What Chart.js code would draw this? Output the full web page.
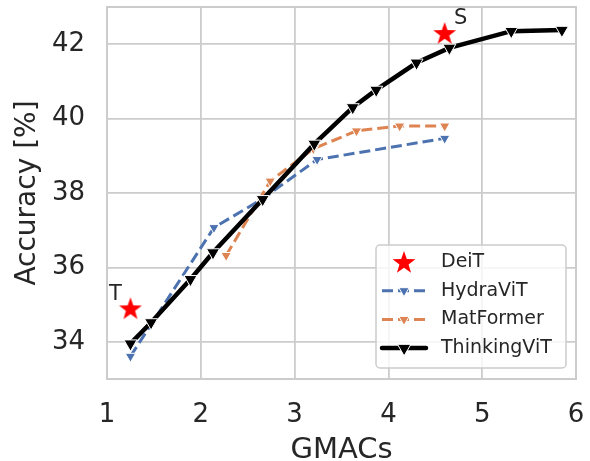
<!DOCTYPE html>
<html>
<head>
<meta charset="utf-8">
<script src="https://cdn.jsdelivr.net/npm/chart.js@4"></script>
<style>
  html, body { margin: 0; padding: 0; background: #fff; }
  #wrap { width: 590px; height: 461px; }
</style>
</head>
<body>
<div id="wrap"><canvas id="accChart" width="590" height="461"></canvas></div>
<script>
// values
const xTicks = [1, 2, 3, 4, 5, 6];
const yTicks = [34, 36, 38, 40, 42];

const deitX = [1.25, 4.60];
const deitY = [34.90, 42.30];
const deitTags = ['T', 'S'];

const hydraX = [1.25, 2.14, 2.65, 3.24, 4.60];
const hydraY = [33.61, 37.07, 37.83, 38.90, 39.47];

const matX = [2.27, 2.74, 3.20, 3.66, 4.12, 4.60];
const matY = [36.32, 38.32, 39.19, 39.67, 39.80, 39.80];

const thinkX = [1.25, 1.47, 1.89, 2.13, 2.66, 3.21, 3.62, 3.87, 4.30, 4.65, 5.31, 5.85];
const thinkY = [33.95, 34.52, 35.68, 36.40, 37.83, 39.32, 40.30, 40.77, 41.50, 41.90, 42.35, 42.38];

const textColor = '#262626';
const gridColor = '#cccccc';
const fontFamily = "'DejaVu Sans', sans-serif";

function pairs(xs, ys) {
    return xs.map((x, i) => ({ x: x, y: ys[i] }));
}

// filled five point star, like matplotlib's '*' marker
function makeStar(size) {
    const c = document.createElement('canvas');
    c.width = size; c.height = size;
    const g = c.getContext('2d');
    const cx = size / 2, cy = size / 2 + 1, R = size / 2, r = R * 0.4;
    g.beginPath();
    for (let i = 0; i < 10; i++) {
        const rad = (i % 2 === 0) ? R : r;
        const ang = -Math.PI / 2 + i * Math.PI / 5;
        g.lineTo(cx + rad * Math.cos(ang), cy + rad * Math.sin(ang));
    }
    g.closePath();
    g.fillStyle = '#ff0000';
    g.fill();
    return c;
}
const starImg = makeStar(24);

const datasets = [
    {
        label: 'DeiT', data: pairs(deitX, deitY), showLine: false,
        pointStyle: starImg, pointRadius: 12, order: 0
    },
    {
        label: 'HydraViT', data: pairs(hydraX, hydraY), showLine: true,
        borderColor: '#4c72b0', borderWidth: 3, borderDash: [11, 5],
        pointStyle: 'triangle', rotation: 180, pointRadius: 6,
        pointBackgroundColor: '#4c72b0', pointBorderColor: '#ffffff', pointBorderWidth: 1,
        order: 3
    },
    {
        label: 'MatFormer', data: pairs(matX, matY), showLine: true,
        borderColor: '#dd8452', borderWidth: 3, borderDash: [11, 5],
        pointStyle: 'triangle', rotation: 180, pointRadius: 6,
        pointBackgroundColor: '#dd8452', pointBorderColor: '#ffffff', pointBorderWidth: 1,
        order: 2
    },
    {
        label: 'ThinkingViT', data: pairs(thinkX, thinkY), showLine: true,
        borderColor: '#000000', borderWidth: 4.5,
        pointStyle: 'triangle', rotation: 180, pointRadius: 7.5,
        pointBackgroundColor: '#000000', pointBorderColor: '#ffffff', pointBorderWidth: 1,
        order: 1
    }
];

const extras = {
    id: 'extras',
    beforeDatasetsDraw(chart) {
        const { ctx, chartArea: a } = chart;
        ctx.save();
        ctx.strokeStyle = gridColor;
        ctx.lineWidth = 2;
        ctx.strokeRect(a.left, a.top, a.right - a.left, a.bottom - a.top);
        ctx.restore();
    },
    afterDatasetsDraw(chart) {
        // T / S tags next to the DeiT stars
        const { ctx } = chart;
        const pts = chart.getDatasetMeta(0).data;
        ctx.save();
        ctx.font = '21px ' + fontFamily;
        ctx.fillStyle = textColor;
        ctx.textAlign = 'center';
        ctx.textBaseline = 'middle';
        pts.forEach((p, i) => {
            const dx = i === 0 ? -15 : 16;
            ctx.fillText(deitTags[i], p.x + dx, p.y - 14);
        });
        ctx.restore();
    },
    afterDraw(chart) {
        const { ctx, chartArea: a } = chart;
        const w = 190, h = 123;
        const left = a.right - 10 - w, top = a.bottom - 11 - h;
        ctx.save();
        ctx.beginPath();
        ctx.roundRect(left, top, w, h, 4);
        ctx.fillStyle = 'rgba(255,255,255,0.8)';
        ctx.fill();
        ctx.strokeStyle = gridColor;
        ctx.lineWidth = 1.5;
        ctx.stroke();

        ctx.font = '19px ' + fontFamily;
        ctx.textBaseline = 'middle';
        ctx.textAlign = 'left';
        const mid = left + 28;
        datasets.forEach((ds, i) => {
            const y = top + 17 + i * 28.7;
            if (ds.showLine) {
                ctx.beginPath();
                ctx.setLineDash(ds.borderDash || []);
                ctx.strokeStyle = ds.borderColor;
                ctx.lineWidth = ds.borderWidth;
                ctx.lineCap = ds.borderDash ? 'butt' : 'round';
                ctx.moveTo(left + 6, y);
                ctx.lineTo(left + 50, y);
                ctx.stroke();
                ctx.setLineDash([]);
                const r = ds.pointRadius;
                ctx.beginPath();
                ctx.moveTo(mid, y + r);
                ctx.lineTo(mid - r * 0.866, y - r / 2);
                ctx.lineTo(mid + r * 0.866, y - r / 2);
                ctx.closePath();
                ctx.fillStyle = ds.pointBackgroundColor;
                ctx.fill();
                ctx.strokeStyle = '#ffffff';
                ctx.lineWidth = 1;
                ctx.stroke();
            } else {
                ctx.drawImage(starImg, mid - 12, y - 12);
            }
            ctx.fillStyle = textColor;
            ctx.fillText(ds.label, left + 65, y);
        });
        ctx.restore();
    }
};

new Chart(document.getElementById('accChart'), {
    type: 'scatter',
    data: { datasets: datasets },
    plugins: [extras],
    options: {
        responsive: false,
        animation: false,
        layout: { autoPadding: false, padding: { top: 7, right: 14, left: 0, bottom: 0 } },
        plugins: { legend: { display: false }, tooltip: { enabled: false } },
        scales: {
            x: {
                type: 'linear', min: 1, max: 6,
                afterBuildTicks: (s) => { s.ticks = xTicks.map(v => ({ value: v })); },
                afterFit: (s) => { s.height = 82; s.paddingLeft = 0; s.paddingRight = 0; },
                grid: { color: gridColor, lineWidth: 1.8, drawTicks: false },
                border: { display: false },
                ticks: {
                    color: textColor, padding: 21,
                    font: { family: fontFamily, size: 26 },
                    callback: (v) => String(v)
                },
                title: {
                    display: true, text: 'GMACs', color: textColor,
                    font: { family: fontFamily, size: 29, lineHeight: 0.72 },
                    padding: { top: 0, bottom: 0 }
                }
            },
            y: {
                type: 'linear', min: 33, max: 43,
                afterBuildTicks: (s) => { s.ticks = yTicks.map(v => ({ value: v })); },
                afterFit: (s) => { s.width = 107; s.paddingTop = 0; s.paddingBottom = 0; },
                grid: { color: gridColor, lineWidth: 1.8, drawTicks: false },
                border: { display: false },
                ticks: {
                    color: textColor, padding: 22,
                    font: { family: fontFamily, size: 26 },
                    callback: (v) => String(v)
                },
                title: {
                    display: true, text: 'Accuracy [%]', color: textColor,
                    font: { family: fontFamily, size: 28, lineHeight: 1 },
                    padding: { top: 14, bottom: 0 }
                }
            }
        }
    }
});
</script>
</body>
</html>
